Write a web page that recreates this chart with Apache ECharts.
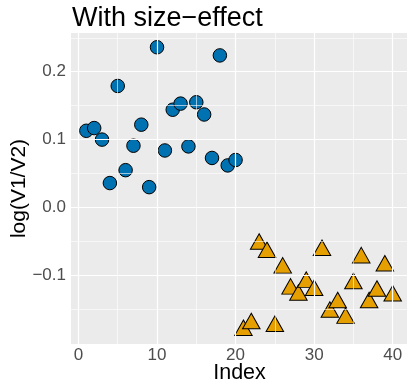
<!DOCTYPE html>
<html><head><meta charset="utf-8">
<script src="https://cdn.jsdelivr.net/npm/echarts@6/dist/echarts.min.js"></script>
<style>html,body{margin:0;padding:0;background:#fff}#c{width:407px;height:383px}</style>
</head><body><div id="c"></div>
<script>
const indexA = [1,2,3,4,5,6,7,8,9,10,11,12,13,14,15,16,17,18,19,20];
const valuesA = [0.113,0.117,0.100,0.036,0.179,0.055,0.091,0.122,0.030,0.236,0.084,0.144,0.153,0.090,0.155,0.137,0.073,0.224,0.062,0.070];
const indexB = [21,22,23,24,25,26,27,28,29,30,31,32,33,34,35,36,37,38,39,40];
const valuesB = [-0.181,-0.171,-0.054,-0.066,-0.175,-0.089,-0.120,-0.129,-0.110,-0.122,-0.063,-0.154,-0.140,-0.163,-0.112,-0.074,-0.140,-0.123,-0.086,-0.130];
const xTicks = [0,10,20,30,40];
const xMinor = [5,15,25,35];
const yTicks = [-0.1,0.0,0.1,0.2];
const yMinor = [-0.15,-0.05,0.05,0.15,0.25];
const titleText = 'With size\u2212effect';

const FONT = '"Liberation Sans", Arial, sans-serif';
const chart = echarts.init(document.getElementById('c'), null, {renderer:'canvas'});
const lineData = (arr, key) => arr.map(v => ({[key]: v}));
const option = {
  animation: false,
  title: {text: titleText, left: 67, top: 0, textStyle: {fontFamily: FONT, fontSize: 27, fontWeight: 'normal', color: '#000'}},
  grid: {left: 71, top: 33, width: 337, height: 311, show: true, backgroundColor: '#EBEBEB', borderWidth: 0, containLabel: false, outerBoundsMode: 'none'},
  xAxis: {
    type: 'value', min: -0.95, max: 41.95,
    name: 'Index', nameLocation: 'middle', nameGap: 18, nameMoveOverlap: false,
    nameTextStyle: {fontFamily: FONT, fontSize: 21.5, color: '#000'},
    axisLine: {show: false},
    axisTick: {show: true, length: 3, lineStyle: {color: '#333', width: 1}, customValues: xTicks},
    axisLabel: {fontFamily: FONT, fontSize: 17, color: '#4D4D4D', margin: 3, customValues: xTicks, formatter: v => String(v)},
    splitLine: {show: false}
  },
  yAxis: {
    type: 'value', min: -0.201, max: 0.257,
    name: 'log(V1/V2)', nameLocation: 'middle', nameGap: 41, nameMoveOverlap: false,
    nameTextStyle: {fontFamily: FONT, fontSize: 21, color: '#000'},
    axisLine: {show: false},
    axisTick: {show: true, length: 3, lineStyle: {color: '#333', width: 1}, customValues: yTicks},
    axisLabel: {fontFamily: FONT, fontSize: 17, color: '#4D4D4D', margin: 5, customValues: yTicks,
      formatter: v => (v < 0 ? '\u2212' : '') + Math.abs(v).toFixed(1)},
    splitLine: {show: false}
  },
  series: [
    {type: 'scatter', data: [], z: 1, silent: true,
      markLine: {silent: true, symbol: 'none', label: {show: false}, animation: false,
        lineStyle: {color: '#FFFFFF', width: 0.6, type: 'solid'},
        data: lineData(xMinor, 'xAxis').concat(lineData(yMinor, 'yAxis'))}},
    {type: 'scatter', data: [], z: 1, silent: true,
      markLine: {silent: true, symbol: 'none', label: {show: false}, animation: false,
        lineStyle: {color: '#FFFFFF', width: 1.2, type: 'solid'},
        data: lineData(xTicks, 'xAxis').concat(lineData(yTicks, 'yAxis'))}},
    {type: 'scatter', z: 3, symbol: 'circle', symbolSize: 13.5,
      itemStyle: {color: '#0072B2', borderColor: '#000', borderWidth: 1, opacity: 1},
      data: indexA.map((x, i) => [x, valuesA[i]])},
    {type: 'scatter', z: 3, symbol: 'triangle', symbolSize: [17.5, 15.5], symbolOffset: [0, -2.6],
      itemStyle: {color: '#E69F00', borderColor: '#000', borderWidth: 1, opacity: 1},
      data: indexB.map((x, i) => [x, valuesB[i]])}
  ]
};
chart.setOption(option);
</script></body></html>
